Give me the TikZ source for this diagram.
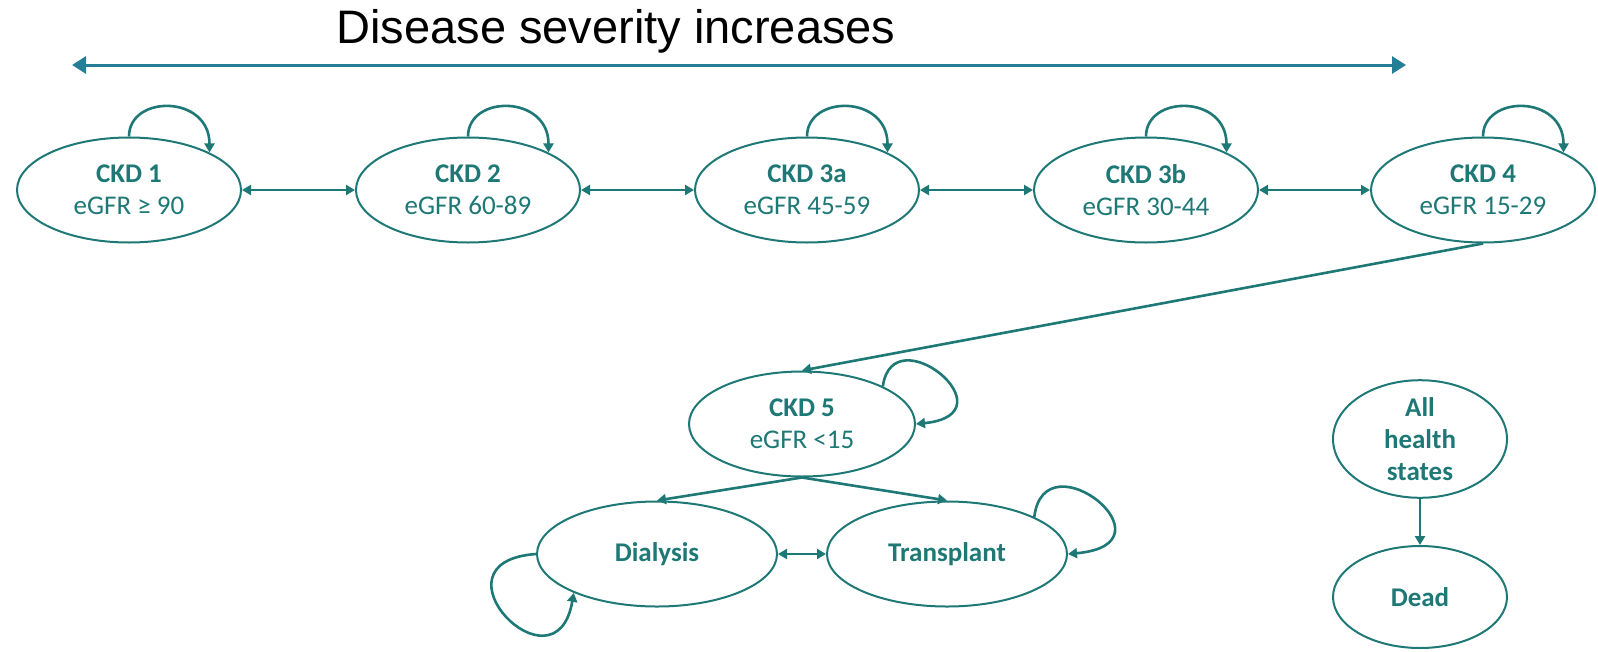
\documentclass[tikz,border=0pt]{standalone}
\usepackage{fontspec}
\setmainfont{Carlito}
\newfontfamily\titlefont{Liberation Sans}
\usetikzlibrary{shapes.geometric,arrows.meta}
\definecolor{teal1}{HTML}{1D7876}
\definecolor{scale1}{HTML}{237E96}
\tikzset{
  state/.style={ellipse, draw=teal1, line width=2pt, inner sep=0pt,
    minimum width=224pt, minimum height=105pt, text=teal1, align=center,
    font=\fontsize{27}{32}\selectfont},
  wide/.style={minimum width=240pt},
  small/.style={minimum width=174pt, minimum height=102pt},
  link/.style={draw=teal1, line width=2.6pt, -{Triangle[length=9pt,width=10pt]}},
  both/.style={draw=teal1, line width=2.6pt,
    {Triangle[length=9pt,width=10pt]}-{Triangle[length=9pt,width=10pt]}},
}
\begin{document}
\begin{tikzpicture}[x=1pt,y=-1pt]
\useasboundingbox (0,0) rectangle (1598,651);

% severity scale
\node[anchor=base, font=\titlefont\fontsize{47}{56}\selectfont] (title) at (616,43) {Disease severity increases};
\coordinate (sevL) at (72,65);
\coordinate (sevR) at (1406,65);
\draw[draw=scale1, line width=3pt,
  {Triangle[length=14pt,width=17pt]}-{Triangle[length=14pt,width=17pt]}] (sevL) -- (sevR);

% CKD stages
\node[state] (c1)  at (129,190)  {\textbf{CKD 1}\\eGFR ≥ 90};
\node[state] (c2)  at (468,190)  {\textbf{CKD 2}\\eGFR 60-89};
\node[state] (c3a) at (807,190)  {\textbf{CKD 3a}\\eGFR 45-59};
\node[state] (c3b) at (1146,190) {\textbf{CKD 3b}\\eGFR 30-44};
\node[state] (c4)  at (1483,190) {\textbf{CKD 4}\\eGFR 15-29};
\node[state, minimum width=226pt] (c5) at (802,424) {\textbf{CKD 5}\\eGFR <15};

% renal replacement
\node[state, wide] (dia) at (657,554) {\textbf{Dialysis}};
\node[state, wide] (tra) at (947,554) {\textbf{Transplant}};

% death
\node[state, small] (all)  at (1420,439) {\textbf{All}\\\textbf{health}\\\textbf{states}};
\node[state, small] (dead) at (1420,597) {\textbf{Dead}};

% transitions between neighbouring stages
\draw[both] (c1.east)  -- (c2.west);
\draw[both] (c2.east)  -- (c3a.west);
\draw[both] (c3a.east) -- (c3b.west);
\draw[both] (c3b.east) -- (c4.west);

% staying in the same stage
\foreach \n in {c1,c2,c3a,c3b,c4}{
  \draw[link] (\n.north) .. controls +(0,-42) and +(0,-58) .. (\n.25);
}

\draw[link] (c4.south) -- (c5.north);
\draw[link] (c5.25) .. controls +(10,-72) and +(98,-10) .. (c5.east);
\draw[link] (c5.south) -- (dia.north);
\draw[link] (c5.south) -- (tra.north);
\draw[both] (dia.east) -- (tra.west);
\draw[link] (tra.23) .. controls +(10,-82) and +(112,-10) .. (tra.east);
\draw[link] (dia.west) .. controls +(-112,8) and +(-18,105) .. (dia.205);
\draw[link] (all.south) -- (dead.north);
\end{tikzpicture}
\end{document}
